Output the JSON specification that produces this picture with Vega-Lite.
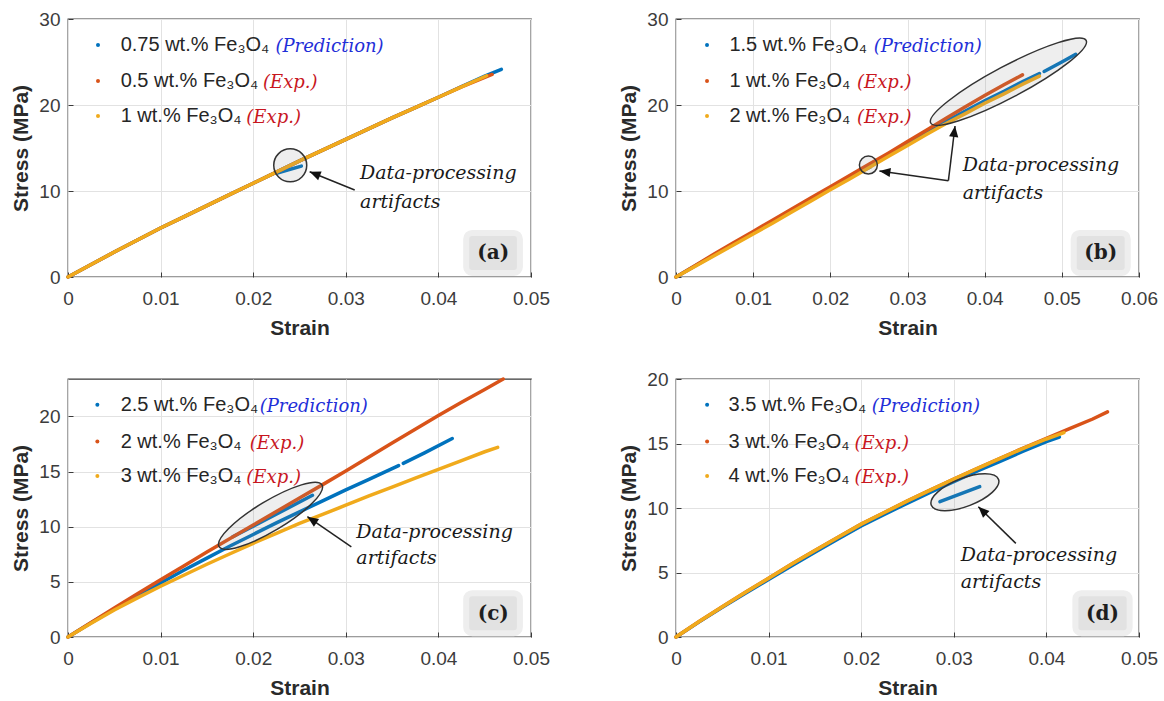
{
  "$schema": "https://vega.github.io/schema/vega-lite/v6.json",
  "background": "white",
  "padding": {"left": 10, "top": 9, "right": 5, "bottom": 2},
  "columns": 2,
  "spacing": {"row": 102, "column": 145},
  "bounds": "flush",
  "config": {
    "view": {"stroke": "#3a3a3a", "strokeWidth": 1.3},
    "axis": {
      "labelFont": "Liberation Sans", "labelFontSize": 19, "labelColor": "#3c3c3c",
      "titleFont": "Liberation Sans", "titleFontSize": 21, "titleFontWeight": "bold", "titleColor": "#2a2a2a",
      "gridColor": "#e2e2e2", "gridWidth": 1, "domain": false,
      "tickColor": "#3a3a3a", "tickSize": -5, "labelFlush": false, "labelOverlap": false
    },
    "axisX": {"labelPadding": 17, "titlePadding": 9},
    "axisY": {"labelPadding": 13, "titlePadding": 7}
  },
  "datasets": {
    "ca": [
      {"s":0,"v":0,"series":"pred","seg":"p1"},{"s":0.0025,"v":1.45,"series":"pred","seg":"p1"},{"s":0.005,"v":2.9,"series":"pred","seg":"p1"},{"s":0.0075,"v":4.3,"series":"pred","seg":"p1"},{"s":0.01,"v":5.7,"series":"pred","seg":"p1"},{"s":0.0125,"v":7.0,"series":"pred","seg":"p1"},{"s":0.015,"v":8.3,"series":"pred","seg":"p1"},{"s":0.0175,"v":9.6,"series":"pred","seg":"p1"},{"s":0.02,"v":10.9,"series":"pred","seg":"p1"},{"s":0.0225,"v":12.2,"series":"pred","seg":"p1"},{"s":0.025,"v":13.5,"series":"pred","seg":"p1"},{"s":0.0275,"v":14.75,"series":"pred","seg":"p1"},{"s":0.03,"v":16.0,"series":"pred","seg":"p1"},{"s":0.0325,"v":17.25,"series":"pred","seg":"p1"},{"s":0.035,"v":18.5,"series":"pred","seg":"p1"},{"s":0.0375,"v":19.7,"series":"pred","seg":"p1"},{"s":0.04,"v":20.9,"series":"pred","seg":"p1"},{"s":0.0425,"v":22.15,"series":"pred","seg":"p1"},{"s":0.045,"v":23.35,"series":"pred","seg":"p1"},{"s":0.0468,"v":24.15,"series":"pred","seg":"p1"},
      {"s":0.0225,"v":12.06,"series":"pred","seg":"art"},{"s":0.0252,"v":12.9,"series":"pred","seg":"art"},
      {"s":0,"v":0,"series":"exp1","seg":"e1"},{"s":0.0025,"v":1.45,"series":"exp1","seg":"e1"},{"s":0.005,"v":2.9,"series":"exp1","seg":"e1"},{"s":0.0075,"v":4.3,"series":"exp1","seg":"e1"},{"s":0.01,"v":5.7,"series":"exp1","seg":"e1"},{"s":0.0125,"v":7.0,"series":"exp1","seg":"e1"},{"s":0.015,"v":8.3,"series":"exp1","seg":"e1"},{"s":0.0175,"v":9.6,"series":"exp1","seg":"e1"},{"s":0.02,"v":10.9,"series":"exp1","seg":"e1"},{"s":0.0225,"v":12.2,"series":"exp1","seg":"e1"},{"s":0.025,"v":13.5,"series":"exp1","seg":"e1"},{"s":0.0275,"v":14.75,"series":"exp1","seg":"e1"},{"s":0.03,"v":16.0,"series":"exp1","seg":"e1"},{"s":0.0325,"v":17.25,"series":"exp1","seg":"e1"},{"s":0.035,"v":18.5,"series":"exp1","seg":"e1"},{"s":0.0375,"v":19.7,"series":"exp1","seg":"e1"},{"s":0.04,"v":20.9,"series":"exp1","seg":"e1"},{"s":0.0425,"v":22.1,"series":"exp1","seg":"e1"},{"s":0.0458,"v":23.55,"series":"exp1","seg":"e1"},
      {"s":0,"v":0,"series":"exp2","seg":"e2"},{"s":0.0025,"v":1.45,"series":"exp2","seg":"e2"},{"s":0.005,"v":2.9,"series":"exp2","seg":"e2"},{"s":0.0075,"v":4.3,"series":"exp2","seg":"e2"},{"s":0.01,"v":5.7,"series":"exp2","seg":"e2"},{"s":0.0125,"v":7.0,"series":"exp2","seg":"e2"},{"s":0.015,"v":8.3,"series":"exp2","seg":"e2"},{"s":0.0175,"v":9.6,"series":"exp2","seg":"e2"},{"s":0.02,"v":10.9,"series":"exp2","seg":"e2"},{"s":0.0225,"v":12.2,"series":"exp2","seg":"e2"},{"s":0.025,"v":13.5,"series":"exp2","seg":"e2"},{"s":0.0275,"v":14.75,"series":"exp2","seg":"e2"},{"s":0.03,"v":16.0,"series":"exp2","seg":"e2"},{"s":0.0325,"v":17.25,"series":"exp2","seg":"e2"},{"s":0.035,"v":18.5,"series":"exp2","seg":"e2"},{"s":0.0375,"v":19.7,"series":"exp2","seg":"e2"},{"s":0.04,"v":20.9,"series":"exp2","seg":"e2"},{"s":0.0425,"v":22.1,"series":"exp2","seg":"e2"},{"s":0.0452,"v":23.4,"series":"exp2","seg":"e2"}
    ],
    "cb": [
      {"s":0,"v":0,"series":"pred","seg":"p1"},{"s":0.0025,"v":1.3,"series":"pred","seg":"p1"},{"s":0.005,"v":2.6,"series":"pred","seg":"p1"},{"s":0.0075,"v":3.9,"series":"pred","seg":"p1"},{"s":0.01,"v":5.15,"series":"pred","seg":"p1"},{"s":0.0125,"v":6.45,"series":"pred","seg":"p1"},{"s":0.015,"v":7.75,"series":"pred","seg":"p1"},{"s":0.0175,"v":9.05,"series":"pred","seg":"p1"},{"s":0.02,"v":10.35,"series":"pred","seg":"p1"},{"s":0.0225,"v":11.65,"series":"pred","seg":"p1"},{"s":0.025,"v":12.9,"series":"pred","seg":"p1"},{"s":0.0275,"v":14.2,"series":"pred","seg":"p1"},{"s":0.03,"v":15.5,"series":"pred","seg":"p1"},{"s":0.0325,"v":16.8,"series":"pred","seg":"p1"},{"s":0.035,"v":18.1,"series":"pred","seg":"p1"},{"s":0.0375,"v":19.3,"series":"pred","seg":"p1"},{"s":0.04,"v":20.5,"series":"pred","seg":"p1"},{"s":0.0425,"v":21.6,"series":"pred","seg":"p1"},{"s":0.045,"v":22.75,"series":"pred","seg":"p1"},{"s":0.0471,"v":23.65,"series":"pred","seg":"p1"},
      {"s":0.0477,"v":23.9,"series":"pred","seg":"p2"},{"s":0.05,"v":25.0,"series":"pred","seg":"p2"},{"s":0.0518,"v":25.9,"series":"pred","seg":"p2"},
      {"s":0.0246,"v":12.55,"series":"pred","seg":"art"},{"s":0.0252,"v":12.8,"series":"pred","seg":"art"},
      {"s":0,"v":0,"series":"exp1","seg":"e1"},{"s":0.0025,"v":1.35,"series":"exp1","seg":"e1"},{"s":0.005,"v":2.7,"series":"exp1","seg":"e1"},{"s":0.0075,"v":4.0,"series":"exp1","seg":"e1"},{"s":0.01,"v":5.3,"series":"exp1","seg":"e1"},{"s":0.0125,"v":6.6,"series":"exp1","seg":"e1"},{"s":0.015,"v":7.9,"series":"exp1","seg":"e1"},{"s":0.0175,"v":9.2,"series":"exp1","seg":"e1"},{"s":0.02,"v":10.5,"series":"exp1","seg":"e1"},{"s":0.0225,"v":11.8,"series":"exp1","seg":"e1"},{"s":0.025,"v":13.1,"series":"exp1","seg":"e1"},{"s":0.0275,"v":14.4,"series":"exp1","seg":"e1"},{"s":0.03,"v":15.75,"series":"exp1","seg":"e1"},{"s":0.0325,"v":17.1,"series":"exp1","seg":"e1"},{"s":0.035,"v":18.45,"series":"exp1","seg":"e1"},{"s":0.0375,"v":19.8,"series":"exp1","seg":"e1"},{"s":0.04,"v":21.1,"series":"exp1","seg":"e1"},{"s":0.0425,"v":22.35,"series":"exp1","seg":"e1"},{"s":0.0449,"v":23.5,"series":"exp1","seg":"e1"},
      {"s":0,"v":0,"series":"exp2","seg":"e2"},{"s":0.0025,"v":1.25,"series":"exp2","seg":"e2"},{"s":0.005,"v":2.5,"series":"exp2","seg":"e2"},{"s":0.0075,"v":3.75,"series":"exp2","seg":"e2"},{"s":0.01,"v":5.0,"series":"exp2","seg":"e2"},{"s":0.0125,"v":6.25,"series":"exp2","seg":"e2"},{"s":0.015,"v":7.55,"series":"exp2","seg":"e2"},{"s":0.0175,"v":8.85,"series":"exp2","seg":"e2"},{"s":0.02,"v":10.15,"series":"exp2","seg":"e2"},{"s":0.0225,"v":11.4,"series":"exp2","seg":"e2"},{"s":0.025,"v":12.7,"series":"exp2","seg":"e2"},{"s":0.0275,"v":14.0,"series":"exp2","seg":"e2"},{"s":0.03,"v":15.3,"series":"exp2","seg":"e2"},{"s":0.0325,"v":16.6,"series":"exp2","seg":"e2"},{"s":0.035,"v":17.85,"series":"exp2","seg":"e2"},{"s":0.0375,"v":19.0,"series":"exp2","seg":"e2"},{"s":0.04,"v":20.2,"series":"exp2","seg":"e2"},{"s":0.0425,"v":21.3,"series":"exp2","seg":"e2"},{"s":0.045,"v":22.45,"series":"exp2","seg":"e2"},{"s":0.0471,"v":23.35,"series":"exp2","seg":"e2"}
    ],
    "cc": [
      {"s":0,"v":0,"series":"pred","seg":"p1"},{"s":0.0025,"v":1.3,"series":"pred","seg":"p1"},{"s":0.005,"v":2.55,"series":"pred","seg":"p1"},{"s":0.0075,"v":3.75,"series":"pred","seg":"p1"},{"s":0.01,"v":4.9,"series":"pred","seg":"p1"},{"s":0.0125,"v":6.05,"series":"pred","seg":"p1"},{"s":0.015,"v":7.15,"series":"pred","seg":"p1"},{"s":0.0175,"v":8.25,"series":"pred","seg":"p1"},{"s":0.02,"v":9.3,"series":"pred","seg":"p1"},{"s":0.0225,"v":10.35,"series":"pred","seg":"p1"},{"s":0.025,"v":11.35,"series":"pred","seg":"p1"},{"s":0.0275,"v":12.35,"series":"pred","seg":"p1"},{"s":0.03,"v":13.35,"series":"pred","seg":"p1"},{"s":0.0325,"v":14.3,"series":"pred","seg":"p1"},{"s":0.0357,"v":15.55,"series":"pred","seg":"p1"},
      {"s":0.0362,"v":15.75,"series":"pred","seg":"p2"},{"s":0.0385,"v":16.7,"series":"pred","seg":"p2"},{"s":0.0415,"v":18.0,"series":"pred","seg":"p2"},
      {"s":0.0178,"v":9.09,"series":"pred","seg":"art"},{"s":0.0264,"v":12.85,"series":"pred","seg":"art"},
      {"s":0,"v":0,"series":"exp1","seg":"e1"},{"s":0.0025,"v":1.32,"series":"exp1","seg":"e1"},{"s":0.005,"v":2.63,"series":"exp1","seg":"e1"},{"s":0.0075,"v":3.92,"series":"exp1","seg":"e1"},{"s":0.01,"v":5.2,"series":"exp1","seg":"e1"},{"s":0.0125,"v":6.45,"series":"exp1","seg":"e1"},{"s":0.015,"v":7.7,"series":"exp1","seg":"e1"},{"s":0.0175,"v":8.93,"series":"exp1","seg":"e1"},{"s":0.02,"v":10.15,"series":"exp1","seg":"e1"},{"s":0.0225,"v":11.38,"series":"exp1","seg":"e1"},{"s":0.025,"v":12.6,"series":"exp1","seg":"e1"},{"s":0.0275,"v":13.82,"series":"exp1","seg":"e1"},{"s":0.03,"v":15.05,"series":"exp1","seg":"e1"},{"s":0.0325,"v":16.32,"series":"exp1","seg":"e1"},{"s":0.035,"v":17.6,"series":"exp1","seg":"e1"},{"s":0.0375,"v":18.85,"series":"exp1","seg":"e1"},{"s":0.04,"v":20.1,"series":"exp1","seg":"e1"},{"s":0.0425,"v":21.3,"series":"exp1","seg":"e1"},{"s":0.045,"v":22.45,"series":"exp1","seg":"e1"},{"s":0.047,"v":23.4,"series":"exp1","seg":"e1"},
      {"s":0,"v":0,"series":"exp2","seg":"e2"},{"s":0.0025,"v":1.25,"series":"exp2","seg":"e2"},{"s":0.005,"v":2.45,"series":"exp2","seg":"e2"},{"s":0.0075,"v":3.55,"series":"exp2","seg":"e2"},{"s":0.01,"v":4.6,"series":"exp2","seg":"e2"},{"s":0.0125,"v":5.6,"series":"exp2","seg":"e2"},{"s":0.015,"v":6.6,"series":"exp2","seg":"e2"},{"s":0.0175,"v":7.55,"series":"exp2","seg":"e2"},{"s":0.02,"v":8.5,"series":"exp2","seg":"e2"},{"s":0.0225,"v":9.4,"series":"exp2","seg":"e2"},{"s":0.025,"v":10.3,"series":"exp2","seg":"e2"},{"s":0.0275,"v":11.12,"series":"exp2","seg":"e2"},{"s":0.03,"v":11.95,"series":"exp2","seg":"e2"},{"s":0.0325,"v":12.8,"series":"exp2","seg":"e2"},{"s":0.035,"v":13.6,"series":"exp2","seg":"e2"},{"s":0.0375,"v":14.4,"series":"exp2","seg":"e2"},{"s":0.04,"v":15.2,"series":"exp2","seg":"e2"},{"s":0.0425,"v":16.0,"series":"exp2","seg":"e2"},{"s":0.045,"v":16.8,"series":"exp2","seg":"e2"},{"s":0.0464,"v":17.2,"series":"exp2","seg":"e2"}
    ],
    "cd": [
      {"s":0,"v":0,"series":"pred","seg":"p1"},{"s":0.0025,"v":1.17,"series":"pred","seg":"p1"},{"s":0.005,"v":2.3,"series":"pred","seg":"p1"},{"s":0.0075,"v":3.4,"series":"pred","seg":"p1"},{"s":0.01,"v":4.45,"series":"pred","seg":"p1"},{"s":0.0125,"v":5.52,"series":"pred","seg":"p1"},{"s":0.015,"v":6.57,"series":"pred","seg":"p1"},{"s":0.0175,"v":7.6,"series":"pred","seg":"p1"},{"s":0.02,"v":8.6,"series":"pred","seg":"p1"},{"s":0.0225,"v":9.5,"series":"pred","seg":"p1"},{"s":0.025,"v":10.38,"series":"pred","seg":"p1"},{"s":0.0275,"v":11.22,"series":"pred","seg":"p1"},{"s":0.03,"v":12.05,"series":"pred","seg":"p1"},{"s":0.0325,"v":12.85,"series":"pred","seg":"p1"},{"s":0.035,"v":13.62,"series":"pred","seg":"p1"},{"s":0.0375,"v":14.4,"series":"pred","seg":"p1"},{"s":0.04,"v":15.15,"series":"pred","seg":"p1"},{"s":0.0414,"v":15.5,"series":"pred","seg":"p1"},
      {"s":0.0285,"v":10.49,"series":"pred","seg":"art"},{"s":0.0328,"v":11.66,"series":"pred","seg":"art"},
      {"s":0,"v":0,"series":"exp1","seg":"e1"},{"s":0.0025,"v":1.2,"series":"exp1","seg":"e1"},{"s":0.005,"v":2.35,"series":"exp1","seg":"e1"},{"s":0.0075,"v":3.47,"series":"exp1","seg":"e1"},{"s":0.01,"v":4.55,"series":"exp1","seg":"e1"},{"s":0.0125,"v":5.65,"series":"exp1","seg":"e1"},{"s":0.015,"v":6.7,"series":"exp1","seg":"e1"},{"s":0.0175,"v":7.73,"series":"exp1","seg":"e1"},{"s":0.02,"v":8.75,"series":"exp1","seg":"e1"},{"s":0.0225,"v":9.65,"series":"exp1","seg":"e1"},{"s":0.025,"v":10.55,"series":"exp1","seg":"e1"},{"s":0.0275,"v":11.4,"series":"exp1","seg":"e1"},{"s":0.03,"v":12.25,"series":"exp1","seg":"e1"},{"s":0.0325,"v":13.05,"series":"exp1","seg":"e1"},{"s":0.035,"v":13.85,"series":"exp1","seg":"e1"},{"s":0.0375,"v":14.65,"series":"exp1","seg":"e1"},{"s":0.04,"v":15.4,"series":"exp1","seg":"e1"},{"s":0.0425,"v":16.15,"series":"exp1","seg":"e1"},{"s":0.045,"v":16.9,"series":"exp1","seg":"e1"},{"s":0.0466,"v":17.45,"series":"exp1","seg":"e1"},
      {"s":0,"v":0,"series":"exp2","seg":"e2"},{"s":0.0025,"v":1.2,"series":"exp2","seg":"e2"},{"s":0.005,"v":2.35,"series":"exp2","seg":"e2"},{"s":0.0075,"v":3.47,"series":"exp2","seg":"e2"},{"s":0.01,"v":4.55,"series":"exp2","seg":"e2"},{"s":0.0125,"v":5.65,"series":"exp2","seg":"e2"},{"s":0.015,"v":6.7,"series":"exp2","seg":"e2"},{"s":0.0175,"v":7.73,"series":"exp2","seg":"e2"},{"s":0.02,"v":8.75,"series":"exp2","seg":"e2"},{"s":0.0225,"v":9.65,"series":"exp2","seg":"e2"},{"s":0.025,"v":10.55,"series":"exp2","seg":"e2"},{"s":0.0275,"v":11.4,"series":"exp2","seg":"e2"},{"s":0.03,"v":12.25,"series":"exp2","seg":"e2"},{"s":0.0325,"v":13.05,"series":"exp2","seg":"e2"},{"s":0.035,"v":13.85,"series":"exp2","seg":"e2"},{"s":0.0375,"v":14.62,"series":"exp2","seg":"e2"},{"s":0.04,"v":15.35,"series":"exp2","seg":"e2"},{"s":0.0419,"v":15.85,"series":"exp2","seg":"e2"}
    ],
    "la": [
      {"ds":0.00324,"s":0.00569,"ss":0.0224,"v":26.98,"t":"0.75 wt.% Fe₃O₄","suf":"(Prediction)","series":"pred","kind":"pred"},
      {"ds":0.00324,"s":0.00569,"ss":0.02106,"v":22.79,"t":"0.5 wt.% Fe₃O₄","suf":"(Exp.)","series":"exp1","kind":"exp"},
      {"ds":0.00324,"s":0.00569,"ss":0.01926,"v":18.72,"t":"1 wt.% Fe₃O₄","suf":"(Exp.)","series":"exp2","kind":"exp"}
    ],
    "lb": [
      {"ds":0.00402,"s":0.00692,"ss":0.02562,"v":26.98,"t":"1.5 wt.% Fe₃O₄","suf":"(Prediction)","series":"pred","kind":"pred"},
      {"ds":0.00402,"s":0.00692,"ss":0.02346,"v":22.79,"t":"1 wt.% Fe₃O₄","suf":"(Exp.)","series":"exp1","kind":"exp"},
      {"ds":0.00402,"s":0.00692,"ss":0.02346,"v":18.72,"t":"2 wt.% Fe₃O₄","suf":"(Exp.)","series":"exp2","kind":"exp"}
    ],
    "lc": [
      {"ds":0.00317,"s":0.00569,"ss":0.0207,"v":21.06,"t":"2.5 wt.% Fe₃O₄","suf":"(Prediction)","series":"pred","kind":"pred"},
      {"ds":0.00317,"s":0.00569,"ss":0.01962,"v":17.73,"t":"2 wt.% Fe₃O₄","suf":"(Exp.)","series":"exp1","kind":"exp"},
      {"ds":0.00317,"s":0.00569,"ss":0.01926,"v":14.61,"t":"3 wt.% Fe₃O₄","suf":"(Exp.)","series":"exp2","kind":"exp"}
    ],
    "ld": [
      {"ds":0.00336,"s":0.00568,"ss":0.02115,"v":18.0,"t":"3.5 wt.% Fe₃O₄","suf":"(Prediction)","series":"pred","kind":"pred"},
      {"ds":0.00336,"s":0.00568,"ss":0.01927,"v":15.15,"t":"3 wt.% Fe₃O₄","suf":"(Exp.)","series":"exp1","kind":"exp"},
      {"ds":0.00336,"s":0.00568,"ss":0.01927,"v":12.49,"t":"4 wt.% Fe₃O₄","suf":"(Exp.)","series":"exp2","kind":"exp"}
    ],
    "ta": [{"s":0.03154,"v":12.06,"t":"Data-processing"},{"s":0.03154,"v":8.76,"t":"artifacts"}],
    "tb": [{"s":0.03716,"v":13.02,"t":"Data-processing"},{"s":0.03716,"v":9.73,"t":"artifacts"}],
    "tc": [{"s":0.03114,"v":9.55,"t":"Data-processing"},{"s":0.03114,"v":7.13,"t":"artifacts"}],
    "td": [{"s":0.03074,"v":6.35,"t":"Data-processing"},{"s":0.03074,"v":4.27,"t":"artifacts"}],
    "ba": [{"s":0.043,"s2":0.0488,"v":0.47,"v2":5.12,"ts":0.04592,"tv":2.75,"t":"(a)"}],
    "bb": [{"s":0.05154,"s2":0.05854,"v":0.47,"v2":5.12,"ts":0.05504,"tv":2.75,"t":"(b)"}],
    "bc": [{"s":0.043,"s2":0.0488,"v":0.34,"v2":3.97,"ts":0.04592,"tv":2.12,"t":"(c)"}],
    "bd": [{"s":0.04313,"s2":0.04899,"v":0.29,"v2":3.4,"ts":0.04606,"tv":1.82,"t":"(d)"}]
  },
  "concat": [
    {
      "width": 463, "height": 258,
      "layer": [
        {"data": {"name": "ca"}, "mark": {"type": "line", "strokeWidth": 3.5, "strokeCap": "round"},
         "encoding": {
           "x": {"field": "s", "type": "quantitative", "scale": {"domain": [0, 0.05], "nice": false, "zero": false}, "axis": {"title": "Strain", "values": [0, 0.01, 0.02, 0.03, 0.04, 0.05], "format": "~g"}},
           "y": {"field": "v", "type": "quantitative", "scale": {"domain": [0, 30], "nice": false}, "axis": {"title": "Stress (MPa)", "values": [0, 10, 20, 30]}},
           "color": {"field": "series", "type": "nominal", "scale": {"domain": ["pred", "exp1", "exp2"], "range": ["#0072BD", "#D95319", "#F0AA1C"]}, "legend": null},
           "detail": {"field": "seg"}}},
        {"data": {"values": [{"s": 0.024, "v": 12.99}]}, "mark": {"type": "point", "shape": "circle", "size": 1089, "filled": true, "fill": "#8c8c8c", "fillOpacity": 0.15, "stroke": "#333333", "strokeWidth": 1.5, "opacity": 1},
         "encoding": {"x": {"field": "s", "type": "quantitative"}, "y": {"field": "v", "type": "quantitative"}}},
        {"data": {"values": [{"s": 0.03096, "v": 10.12, "s2": 0.0261, "v2": 12.24}]}, "mark": {"type": "rule", "color": "#222222", "strokeWidth": 1.5},
         "encoding": {"x": {"field": "s", "type": "quantitative"}, "y": {"field": "v", "type": "quantitative"}, "x2": {"field": "s2"}, "y2": {"field": "v2"}}},
        {"data": {"values": [{"s": 0.0261, "v": 12.24}]}, "mark": {"type": "point", "shape": "M0,0L0.42,1L-0.42,1Z", "size": 484, "angle": -68, "filled": true, "fill": "#111111", "opacity": 1, "strokeWidth": 0},
         "encoding": {"x": {"field": "s", "type": "quantitative"}, "y": {"field": "v", "type": "quantitative"}}},
        {"data": {"name": "ta"}, "mark": {"type": "text", "font": "DejaVu Serif", "fontStyle": "italic", "fontSize": 19, "color": "#1a1a1a", "align": "left", "baseline": "middle"},
         "encoding": {"x": {"field": "s", "type": "quantitative"}, "y": {"field": "v", "type": "quantitative"}, "text": {"field": "t"}}},
        {"data": {"name": "la"}, "mark": {"type": "point", "filled": true, "size": 16, "opacity": 1},
         "encoding": {"x": {"field": "ds", "type": "quantitative"}, "y": {"field": "v", "type": "quantitative"}, "color": {"field": "series", "type": "nominal", "legend": null}}},
        {"data": {"name": "la"}, "mark": {"type": "text", "font": "Liberation Sans", "fontSize": 20, "color": "#262626", "align": "left", "baseline": "middle"},
         "encoding": {"x": {"field": "s", "type": "quantitative"}, "y": {"field": "v", "type": "quantitative"}, "text": {"field": "t"}}},
        {"data": {"name": "la"}, "mark": {"type": "text", "font": "DejaVu Serif", "fontStyle": "italic", "fontSize": 18, "align": "left", "baseline": "middle", "dy": 2},
         "encoding": {"x": {"field": "ss", "type": "quantitative"}, "y": {"field": "v", "type": "quantitative"}, "text": {"field": "suf"}, "fill": {"field": "kind", "type": "nominal", "scale": {"domain": ["pred", "exp"], "range": ["#1f2fd8", "#c8161e"]}, "legend": null}}},
        {"data": {"name": "ba"}, "mark": {"type": "rect", "fill": "#e2e2e2", "stroke": "#eeeeee", "strokeWidth": 6, "cornerRadius": 6},
         "encoding": {"x": {"field": "s", "type": "quantitative"}, "x2": {"field": "s2"}, "y": {"field": "v", "type": "quantitative"}, "y2": {"field": "v2"}}},
        {"data": {"name": "ba"}, "mark": {"type": "text", "font": "DejaVu Serif", "fontWeight": "bold", "fontSize": 20, "color": "#1e1e1e", "align": "center", "baseline": "middle"},
         "encoding": {"x": {"field": "ts", "type": "quantitative"}, "y": {"field": "tv", "type": "quantitative"}, "text": {"field": "t"}}}
      ]
    },
    {
      "width": 463, "height": 258,
      "layer": [
        {"data": {"name": "cb"}, "mark": {"type": "line", "strokeWidth": 3.5, "strokeCap": "round"},
         "encoding": {
           "x": {"field": "s", "type": "quantitative", "scale": {"domain": [0, 0.06], "nice": false, "zero": false}, "axis": {"title": "Strain", "values": [0, 0.01, 0.02, 0.03, 0.04, 0.05, 0.06], "format": "~g"}},
           "y": {"field": "v", "type": "quantitative", "scale": {"domain": [0, 30], "nice": false}, "axis": {"title": "Stress (MPa)", "values": [0, 10, 20, 30]}},
           "color": {"field": "series", "type": "nominal", "scale": {"domain": ["pred", "exp1", "exp2"], "range": ["#0072BD", "#D95319", "#F0AA1C"]}, "legend": null},
           "detail": {"field": "seg"}}},
        {"data": {"values": [{"s": 0.02493, "v": 13.02}]}, "mark": {"type": "point", "shape": "circle", "size": 324, "filled": true, "fill": "#8c8c8c", "fillOpacity": 0.15, "stroke": "#333333", "strokeWidth": 1.5, "opacity": 1},
         "encoding": {"x": {"field": "s", "type": "quantitative"}, "y": {"field": "v", "type": "quantitative"}}},
        {"data": {"values": [{"s": 0.04308, "v": 22.71}]}, "mark": {"type": "point", "shape": "M-1,0A1,0.18,0,1,1,1,0A1,0.18,0,1,1,-1,0Z", "size": 30976, "angle": -28, "filled": true, "fill": "#8c8c8c", "fillOpacity": 0.15, "stroke": "#333333", "strokeWidth": 1.5, "opacity": 1},
         "encoding": {"x": {"field": "s", "type": "quantitative"}, "y": {"field": "v", "type": "quantitative"}}},
        {"data": {"values": [{"s": 0.0353, "v": 11.2, "s2": 0.02636, "v2": 12.33}, {"s": 0.0353, "v": 11.2, "s2": 0.03616, "v2": 17.56}]}, "mark": {"type": "rule", "color": "#222222", "strokeWidth": 1.5},
         "encoding": {"x": {"field": "s", "type": "quantitative"}, "y": {"field": "v", "type": "quantitative"}, "x2": {"field": "s2"}, "y2": {"field": "v2"}}},
        {"data": {"values": [{"s": 0.02636, "v": 12.33}]}, "mark": {"type": "point", "shape": "M0,0L0.42,1L-0.42,1Z", "size": 484, "angle": -82, "filled": true, "fill": "#111111", "opacity": 1, "strokeWidth": 0},
         "encoding": {"x": {"field": "s", "type": "quantitative"}, "y": {"field": "v", "type": "quantitative"}}},
        {"data": {"values": [{"s": 0.03616, "v": 17.56}]}, "mark": {"type": "point", "shape": "M0,0L0.42,1L-0.42,1Z", "size": 484, "angle": 7, "filled": true, "fill": "#111111", "opacity": 1, "strokeWidth": 0},
         "encoding": {"x": {"field": "s", "type": "quantitative"}, "y": {"field": "v", "type": "quantitative"}}},
        {"data": {"name": "tb"}, "mark": {"type": "text", "font": "DejaVu Serif", "fontStyle": "italic", "fontSize": 19, "color": "#1a1a1a", "align": "left", "baseline": "middle"},
         "encoding": {"x": {"field": "s", "type": "quantitative"}, "y": {"field": "v", "type": "quantitative"}, "text": {"field": "t"}}},
        {"data": {"name": "lb"}, "mark": {"type": "point", "filled": true, "size": 16, "opacity": 1},
         "encoding": {"x": {"field": "ds", "type": "quantitative"}, "y": {"field": "v", "type": "quantitative"}, "color": {"field": "series", "type": "nominal", "legend": null}}},
        {"data": {"name": "lb"}, "mark": {"type": "text", "font": "Liberation Sans", "fontSize": 20, "color": "#262626", "align": "left", "baseline": "middle"},
         "encoding": {"x": {"field": "s", "type": "quantitative"}, "y": {"field": "v", "type": "quantitative"}, "text": {"field": "t"}}},
        {"data": {"name": "lb"}, "mark": {"type": "text", "font": "DejaVu Serif", "fontStyle": "italic", "fontSize": 18, "align": "left", "baseline": "middle", "dy": 2},
         "encoding": {"x": {"field": "ss", "type": "quantitative"}, "y": {"field": "v", "type": "quantitative"}, "text": {"field": "suf"}, "fill": {"field": "kind", "type": "nominal", "scale": {"domain": ["pred", "exp"], "range": ["#1f2fd8", "#c8161e"]}, "legend": null}}},
        {"data": {"name": "bb"}, "mark": {"type": "rect", "fill": "#e2e2e2", "stroke": "#eeeeee", "strokeWidth": 6, "cornerRadius": 6},
         "encoding": {"x": {"field": "s", "type": "quantitative"}, "x2": {"field": "s2"}, "y": {"field": "v", "type": "quantitative"}, "y2": {"field": "v2"}}},
        {"data": {"name": "bb"}, "mark": {"type": "text", "font": "DejaVu Serif", "fontWeight": "bold", "fontSize": 20, "color": "#1e1e1e", "align": "center", "baseline": "middle"},
         "encoding": {"x": {"field": "ts", "type": "quantitative"}, "y": {"field": "tv", "type": "quantitative"}, "text": {"field": "t"}}}
      ]
    },
    {
      "width": 463, "height": 258,
      "layer": [
        {"data": {"name": "cc"}, "mark": {"type": "line", "strokeWidth": 3.5, "strokeCap": "round"},
         "encoding": {
           "x": {"field": "s", "type": "quantitative", "scale": {"domain": [0, 0.05], "nice": false, "zero": false}, "axis": {"title": "Strain", "values": [0, 0.01, 0.02, 0.03, 0.04, 0.05], "format": "~g"}},
           "y": {"field": "v", "type": "quantitative", "scale": {"domain": [0, 23.4], "nice": false}, "axis": {"title": "Stress (MPa)", "values": [0, 5, 10, 15, 20]}},
           "color": {"field": "series", "type": "nominal", "scale": {"domain": ["pred", "exp1", "exp2"], "range": ["#0072BD", "#D95319", "#F0AA1C"]}, "legend": null},
           "detail": {"field": "seg"}}},
        {"data": {"values": [{"s": 0.02187, "v": 10.99}]}, "mark": {"type": "point", "shape": "M-1,0A1,0.25,0,1,1,1,0A1,0.25,0,1,1,-1,0Z", "size": 14400, "angle": -31, "filled": true, "fill": "#8c8c8c", "fillOpacity": 0.15, "stroke": "#333333", "strokeWidth": 1.5, "opacity": 1},
         "encoding": {"x": {"field": "s", "type": "quantitative"}, "y": {"field": "v", "type": "quantitative"}}},
        {"data": {"values": [{"s": 0.0306, "v": 8.18, "s2": 0.02585, "v2": 10.91}]}, "mark": {"type": "rule", "color": "#222222", "strokeWidth": 1.5},
         "encoding": {"x": {"field": "s", "type": "quantitative"}, "y": {"field": "v", "type": "quantitative"}, "x2": {"field": "s2"}, "y2": {"field": "v2"}}},
        {"data": {"values": [{"s": 0.02585, "v": 10.91}]}, "mark": {"type": "point", "shape": "M0,0L0.42,1L-0.42,1Z", "size": 484, "angle": -56, "filled": true, "fill": "#111111", "opacity": 1, "strokeWidth": 0},
         "encoding": {"x": {"field": "s", "type": "quantitative"}, "y": {"field": "v", "type": "quantitative"}}},
        {"data": {"name": "tc"}, "mark": {"type": "text", "font": "DejaVu Serif", "fontStyle": "italic", "fontSize": 19, "color": "#1a1a1a", "align": "left", "baseline": "middle"},
         "encoding": {"x": {"field": "s", "type": "quantitative"}, "y": {"field": "v", "type": "quantitative"}, "text": {"field": "t"}}},
        {"data": {"name": "lc"}, "mark": {"type": "point", "filled": true, "size": 16, "opacity": 1},
         "encoding": {"x": {"field": "ds", "type": "quantitative"}, "y": {"field": "v", "type": "quantitative"}, "color": {"field": "series", "type": "nominal", "legend": null}}},
        {"data": {"name": "lc"}, "mark": {"type": "text", "font": "Liberation Sans", "fontSize": 20, "color": "#262626", "align": "left", "baseline": "middle"},
         "encoding": {"x": {"field": "s", "type": "quantitative"}, "y": {"field": "v", "type": "quantitative"}, "text": {"field": "t"}}},
        {"data": {"name": "lc"}, "mark": {"type": "text", "font": "DejaVu Serif", "fontStyle": "italic", "fontSize": 18, "align": "left", "baseline": "middle", "dy": 2},
         "encoding": {"x": {"field": "ss", "type": "quantitative"}, "y": {"field": "v", "type": "quantitative"}, "text": {"field": "suf"}, "fill": {"field": "kind", "type": "nominal", "scale": {"domain": ["pred", "exp"], "range": ["#1f2fd8", "#c8161e"]}, "legend": null}}},
        {"data": {"name": "bc"}, "mark": {"type": "rect", "fill": "#e2e2e2", "stroke": "#eeeeee", "strokeWidth": 6, "cornerRadius": 6},
         "encoding": {"x": {"field": "s", "type": "quantitative"}, "x2": {"field": "s2"}, "y": {"field": "v", "type": "quantitative"}, "y2": {"field": "v2"}}},
        {"data": {"name": "bc"}, "mark": {"type": "text", "font": "DejaVu Serif", "fontWeight": "bold", "fontSize": 20, "color": "#1e1e1e", "align": "center", "baseline": "middle"},
         "encoding": {"x": {"field": "ts", "type": "quantitative"}, "y": {"field": "tv", "type": "quantitative"}, "text": {"field": "t"}}}
      ]
    },
    {
      "width": 463, "height": 258,
      "layer": [
        {"data": {"name": "cd"}, "mark": {"type": "line", "strokeWidth": 3.5, "strokeCap": "round"},
         "encoding": {
           "x": {"field": "s", "type": "quantitative", "scale": {"domain": [0, 0.05], "nice": false, "zero": false}, "axis": {"title": "Strain", "values": [0, 0.01, 0.02, 0.03, 0.04, 0.05], "format": "~g"}},
           "y": {"field": "v", "type": "quantitative", "scale": {"domain": [0, 20], "nice": false}, "axis": {"title": "Stress (MPa)", "values": [0, 5, 10, 15, 20]}},
           "color": {"field": "series", "type": "nominal", "scale": {"domain": ["pred", "exp1", "exp2"], "range": ["#0072BD", "#D95319", "#F0AA1C"]}, "legend": null},
           "detail": {"field": "seg"}}},
        {"data": {"values": [{"s": 0.0312, "v": 11.22}]}, "mark": {"type": "point", "shape": "M-1,0A1,0.39,0,1,1,1,0A1,0.39,0,1,1,-1,0Z", "size": 5184, "angle": -21, "filled": true, "fill": "#8c8c8c", "fillOpacity": 0.15, "stroke": "#333333", "strokeWidth": 1.5, "opacity": 1},
         "encoding": {"x": {"field": "s", "type": "quantitative"}, "y": {"field": "v", "type": "quantitative"}}},
        {"data": {"values": [{"s": 0.0367, "v": 7.26, "s2": 0.03265, "v2": 10.1}]}, "mark": {"type": "rule", "color": "#222222", "strokeWidth": 1.5},
         "encoding": {"x": {"field": "s", "type": "quantitative"}, "y": {"field": "v", "type": "quantitative"}, "x2": {"field": "s2"}, "y2": {"field": "v2"}}},
        {"data": {"values": [{"s": 0.03265, "v": 10.1}]}, "mark": {"type": "point", "shape": "M0,0L0.42,1L-0.42,1Z", "size": 484, "angle": -46, "filled": true, "fill": "#111111", "opacity": 1, "strokeWidth": 0},
         "encoding": {"x": {"field": "s", "type": "quantitative"}, "y": {"field": "v", "type": "quantitative"}}},
        {"data": {"name": "td"}, "mark": {"type": "text", "font": "DejaVu Serif", "fontStyle": "italic", "fontSize": 19, "color": "#1a1a1a", "align": "left", "baseline": "middle"},
         "encoding": {"x": {"field": "s", "type": "quantitative"}, "y": {"field": "v", "type": "quantitative"}, "text": {"field": "t"}}},
        {"data": {"name": "ld"}, "mark": {"type": "point", "filled": true, "size": 16, "opacity": 1},
         "encoding": {"x": {"field": "ds", "type": "quantitative"}, "y": {"field": "v", "type": "quantitative"}, "color": {"field": "series", "type": "nominal", "legend": null}}},
        {"data": {"name": "ld"}, "mark": {"type": "text", "font": "Liberation Sans", "fontSize": 20, "color": "#262626", "align": "left", "baseline": "middle"},
         "encoding": {"x": {"field": "s", "type": "quantitative"}, "y": {"field": "v", "type": "quantitative"}, "text": {"field": "t"}}},
        {"data": {"name": "ld"}, "mark": {"type": "text", "font": "DejaVu Serif", "fontStyle": "italic", "fontSize": 18, "align": "left", "baseline": "middle", "dy": 2},
         "encoding": {"x": {"field": "ss", "type": "quantitative"}, "y": {"field": "v", "type": "quantitative"}, "text": {"field": "suf"}, "fill": {"field": "kind", "type": "nominal", "scale": {"domain": ["pred", "exp"], "range": ["#1f2fd8", "#c8161e"]}, "legend": null}}},
        {"data": {"name": "bd"}, "mark": {"type": "rect", "fill": "#e2e2e2", "stroke": "#eeeeee", "strokeWidth": 6, "cornerRadius": 6},
         "encoding": {"x": {"field": "s", "type": "quantitative"}, "x2": {"field": "s2"}, "y": {"field": "v", "type": "quantitative"}, "y2": {"field": "v2"}}},
        {"data": {"name": "bd"}, "mark": {"type": "text", "font": "DejaVu Serif", "fontWeight": "bold", "fontSize": 20, "color": "#1e1e1e", "align": "center", "baseline": "middle"},
         "encoding": {"x": {"field": "ts", "type": "quantitative"}, "y": {"field": "tv", "type": "quantitative"}, "text": {"field": "t"}}}
      ]
    }
  ]
}
